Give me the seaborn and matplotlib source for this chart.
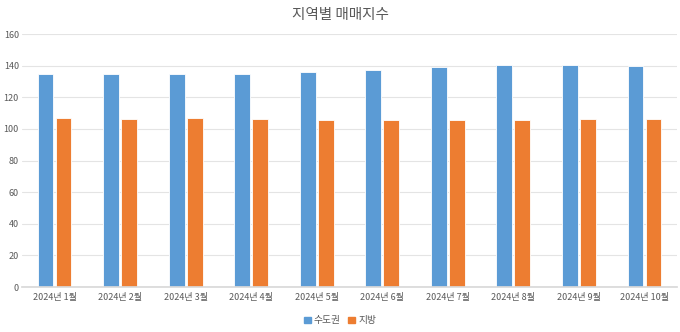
import matplotlib
matplotlib.use("Agg")
import matplotlib.pyplot as plt
import matplotlib.patches as mpatches
import seaborn as sns
import pandas as pd

months = ["2024년 1월", "2024년 2월", "2024년 3월", "2024년 4월", "2024년 5월",
          "2024년 6월", "2024년 7월", "2024년 8월", "2024년 9월", "2024년 10월"]
capital = [134.5, 135.0, 135.0, 135.0, 135.8, 137.2, 139.1, 140.2, 140.2, 139.6]
regional = [106.6, 106.1, 106.6, 106.1, 105.7, 105.5, 105.9, 105.9, 106.3, 106.3]
series_names = ["수도권", "지방"]
colors = ["#5B9BD5", "#ED7D31"]

df = pd.DataFrame({
    "month": months * 2,
    "value": capital + regional,
    "region": [series_names[0]] * len(months) + [series_names[1]] * len(months),
})

sns.set_theme(style="white")
plt.rcParams["font.family"] = ["Noto Sans CJK KR", "DejaVu Sans"]

fig = plt.figure(figsize=(6.8, 3.32), dpi=100)
ax = fig.add_axes([0.032, 0.1355, 0.964, 0.762])

sns.barplot(data=df, x="month", y="value", hue="region", order=months,
            hue_order=series_names, palette=colors, width=0.55, gap=0.12,
            ax=ax, legend=False, saturation=1, edgecolor="white", linewidth=0.6)

ax.set_ylim(0, 160)
ax.set_yticks(range(0, 161, 20))
ax.set_xlim(-0.5, len(months) - 0.5)
ax.set_xlabel("")
ax.set_ylabel("")
ax.yaxis.grid(True, color="#E4E4E4", linewidth=0.8)
ax.set_axisbelow(True)
for side in ["top", "right", "left"]:
    ax.spines[side].set_visible(False)
ax.spines["bottom"].set_color("#D9D9D9")
ax.tick_params(axis="both", length=0, labelsize=6.5, labelcolor="#595959", pad=4)
ax.tick_params(axis="y", pad=2)

fig.suptitle("지역별 매매지수", x=0.5, y=0.975, fontsize=10.5, color="#595959")

handles = [mpatches.Patch(color=c, label=n) for c, n in zip(colors, series_names)]
fig.legend(handles=handles, loc="center", bbox_to_anchor=(0.5, 0.035), ncol=2,
           frameon=False, fontsize=7, handlelength=0.7, handleheight=0.7,
           handletextpad=0.3, columnspacing=0.8, labelcolor="#595959")

fig.savefig("out.png", dpi=100, facecolor="white")
